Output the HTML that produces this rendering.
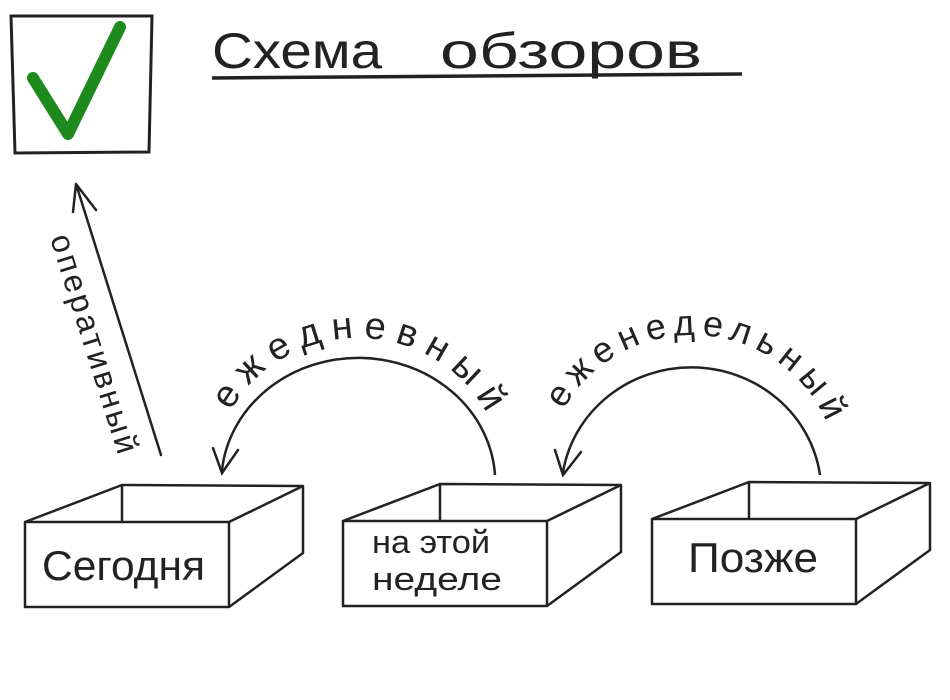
<!DOCTYPE html>
<html><head><meta charset="utf-8"><style>
html,body{margin:0;padding:0;background:#fff;width:950px;height:700px;overflow:hidden}
svg{display:block}
text{font-family:"Liberation Sans","DejaVu Sans",sans-serif;fill:#222}
</style></head><body>
<svg width="950" height="700" viewBox="0 0 950 700" xmlns="http://www.w3.org/2000/svg">
<defs>
<g id="box" fill="none" stroke="#222" stroke-width="2.5" stroke-linejoin="round">
<rect x="0" y="0" width="204" height="85"/>
<path d="M0 0 L97 -37 L278 -36 L278 31 L204 85 M204 0 L278 -36 M97 -37 L97 0"/>
</g>
<path id="p1" d="M213 478 A145 140 0 0 1 503 478"/>
<path id="p2" d="M547 475 A145 140 0 0 1 837 475"/>
</defs>

<!-- checkbox -->
<path d="M11 16 L152 16 L149 152 L15 153 Z" fill="none" stroke="#222" stroke-width="3"/>
<path d="M33 78 L68 134 L120 27" fill="none" stroke="#1e8a1e" stroke-width="12" stroke-linecap="round" stroke-linejoin="round"/>

<!-- title -->
<text x="212" y="68" font-size="50" textLength="170" lengthAdjust="spacingAndGlyphs">Схема</text>
<text x="440" y="68" font-size="50" textLength="262" lengthAdjust="spacingAndGlyphs">обзоров</text>
<path d="M212 78 L742 74" stroke="#222" stroke-width="3.5"/>

<!-- оперативный arrow -->
<path d="M161 455 L76 184 M76 184 L73 212 M76 184 L96 210" stroke="#222" stroke-width="2.5" fill="none" stroke-linecap="round"/>
<text transform="translate(50,238) rotate(72.6)" font-size="32" textLength="228" lengthAdjust="spacing">оперативный</text>

<!-- daily arc -->
<path d="M495 475 A137 125 0 0 0 222 470" fill="none" stroke="#222" stroke-width="2.5"/>
<path d="M213 448 L222 473 L238 450" fill="none" stroke="#222" stroke-width="2.5" stroke-linecap="round"/>
<text font-size="38"><textPath href="#p1" startOffset="70" textLength="310" lengthAdjust="spacing">ежедневный</textPath></text>

<!-- weekly arc -->
<path d="M820 475 A130 125 0 0 0 563 472" fill="none" stroke="#222" stroke-width="2.5"/>
<path d="M555 450 L563 475 L581 452" fill="none" stroke="#222" stroke-width="2.5" stroke-linecap="round"/>
<text font-size="36"><textPath href="#p2" startOffset="68" textLength="325" lengthAdjust="spacing">еженедельный</textPath></text>

<!-- boxes -->
<use href="#box" x="25" y="522"/>
<use href="#box" x="343" y="521"/>
<use href="#box" x="652" y="519"/>
<text x="42" y="580" font-size="42" textLength="163" lengthAdjust="spacingAndGlyphs">Сегодня</text>
<text x="372" y="553" font-size="32" textLength="118" lengthAdjust="spacingAndGlyphs">на этой</text>
<text x="372" y="590" font-size="32" textLength="130" lengthAdjust="spacingAndGlyphs">неделе</text>
<text x="688" y="572" font-size="42" textLength="130" lengthAdjust="spacingAndGlyphs">Позже</text>
</svg>
</body></html>
